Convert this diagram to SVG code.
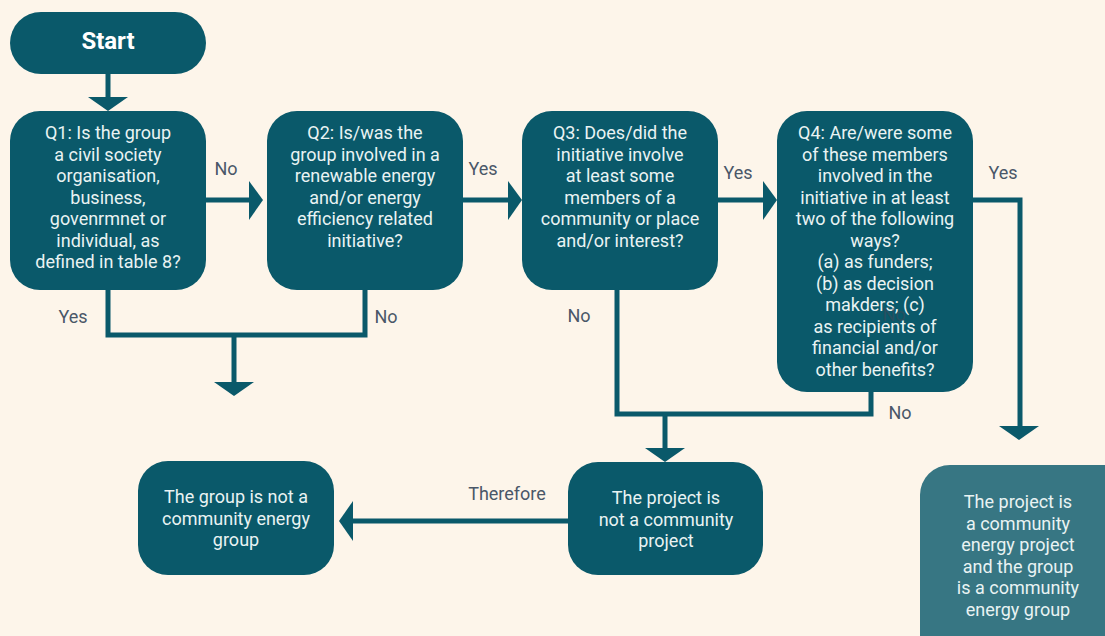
<svg xmlns="http://www.w3.org/2000/svg" width="1105" height="636" viewBox="0 0 1105 636">
<style>
.n{fill:#0a596a}
.t{font-family:Roboto,"Liberation Sans",sans-serif;font-size:18px;fill:#e9f3f3;text-anchor:middle}
.l{font-family:Roboto,"Liberation Sans",sans-serif;font-size:18px;fill:#4a5768;text-anchor:middle}
.c{stroke:#0a596a;stroke-width:5;fill:none}
.h{fill:#0a596a}
</style>
<rect width="1105" height="636" fill="#fdf5ea"/>
<g id="connectors">
<path class="c" d="M108 74V98"/><polygon class="h" points="88,97 128,97 108,111"/>
<path class="c" d="M206 200H251"/><polygon class="h" points="249,181 249,220 263,200"/>
<path class="c" d="M463 200H510"/><polygon class="h" points="508,181 508,220 522,200"/>
<path class="c" d="M718 200H765"/><polygon class="h" points="763,181 763,220 777,200"/>
<path class="c" d="M973 200H1020V427"/><polygon class="h" points="999,426 1039,426 1019,440"/>
<path class="c" d="M108 290V335H365V290"/>
<path class="c" d="M234 335V383"/><polygon class="h" points="214,382 254,382 234,396"/>
<path class="c" d="M617 290V414H871V392"/>
<path class="c" d="M665 414V449"/><polygon class="h" points="645,448 685,448 665,462"/>
<path class="c" d="M568 521H352"/><polygon class="h" points="353,501 353,541 339,521"/>
<text class="l" x="226" y="175">No</text>
<text class="l" x="483" y="175">Yes</text>
<text class="l" x="738" y="179">Yes</text>
<text class="l" x="1003" y="179">Yes</text>
<text class="l" x="73" y="323">Yes</text>
<text class="l" x="386" y="323">No</text>
<text class="l" x="579" y="322">No</text>
<text class="l" x="900" y="419">No</text>
<text class="l" x="507" y="500">Therefore</text>
</g>
<g id="start"><rect class="n" x="10" y="12" width="196" height="62" rx="31"/><text x="108" y="49" style="font-family:Roboto,'Liberation Sans',sans-serif;font-size:24px;font-weight:bold;fill:#fff;text-anchor:middle">Start</text></g>
<g id="q1"><rect class="n" x="10" y="111" width="196" height="179" rx="30"/>
<text class="t" x="108"><tspan x="108" y="139">Q1: Is the group</tspan><tspan x="108" y="160.5">a civil society</tspan><tspan x="108" y="182">organisation,</tspan><tspan x="108" y="203.5">business,</tspan><tspan x="108" y="225">govenrmnet or</tspan><tspan x="108" y="246.5">individual, as</tspan><tspan x="108" y="268">defined in table 8?</tspan></text></g>
<g id="q2"><rect class="n" x="267" y="111" width="196" height="179" rx="30"/>
<text class="t"><tspan x="365" y="139">Q2: Is/was the</tspan><tspan x="365" y="160.5">group involved in a</tspan><tspan x="365" y="182">renewable energy</tspan><tspan x="365" y="203.5">and/or energy</tspan><tspan x="365" y="225">efficiency related</tspan><tspan x="365" y="246.5">initiative?</tspan></text></g>
<g id="q3"><rect class="n" x="522" y="111" width="196" height="179" rx="30"/>
<text class="t"><tspan x="620" y="139">Q3: Does/did the</tspan><tspan x="620" y="160.5">initiative involve</tspan><tspan x="620" y="182">at least some</tspan><tspan x="620" y="203.5">members of a</tspan><tspan x="620" y="225">community or place</tspan><tspan x="620" y="246.5">and/or interest?</tspan></text></g>
<g id="q4"><rect class="n" x="777" y="111" width="196" height="281" rx="30"/>
<text class="t"><tspan x="875" y="139">Q4: Are/were some</tspan><tspan x="875" y="160.5">of these members</tspan><tspan x="875" y="182">involved in the</tspan><tspan x="875" y="203.5">initiative in at least</tspan><tspan x="875" y="225">two of the following</tspan><tspan x="875" y="246.5">ways?</tspan><tspan x="875" y="268">(a) as funders;</tspan><tspan x="875" y="289.5">(b) as decision</tspan><tspan x="875" y="311">makders; (c)</tspan><tspan x="875" y="332.5">as recipients of</tspan><tspan x="875" y="354">financial and/or</tspan><tspan x="875" y="375.5">other benefits?</tspan></text>
<text class="l" x="894" y="321" style="fill:#3c4a58;opacity:0.6">No</text></g>
<g id="notproject"><rect class="n" x="568" y="462" width="195" height="113" rx="30"/>
<text class="t"><tspan x="666" y="504">The project is</tspan><tspan x="666" y="525.5">not a community</tspan><tspan x="666" y="547">project</tspan></text></g>
<g id="notgroup"><rect class="n" x="138" y="461" width="196" height="114" rx="30"/>
<text class="t"><tspan x="236" y="503">The group is not a</tspan><tspan x="236" y="524.5">community energy</tspan><tspan x="236" y="546">group</tspan></text></g>
<g id="isgroup"><rect x="920" y="465" width="220" height="200" rx="30" fill="#377683"/>
<text class="t"><tspan x="1018" y="508">The project is</tspan><tspan x="1018" y="529.5">a community</tspan><tspan x="1018" y="551">energy project</tspan><tspan x="1018" y="572.5">and the group</tspan><tspan x="1018" y="594">is a community</tspan><tspan x="1018" y="615.5">energy group</tspan></text></g>
</svg>
